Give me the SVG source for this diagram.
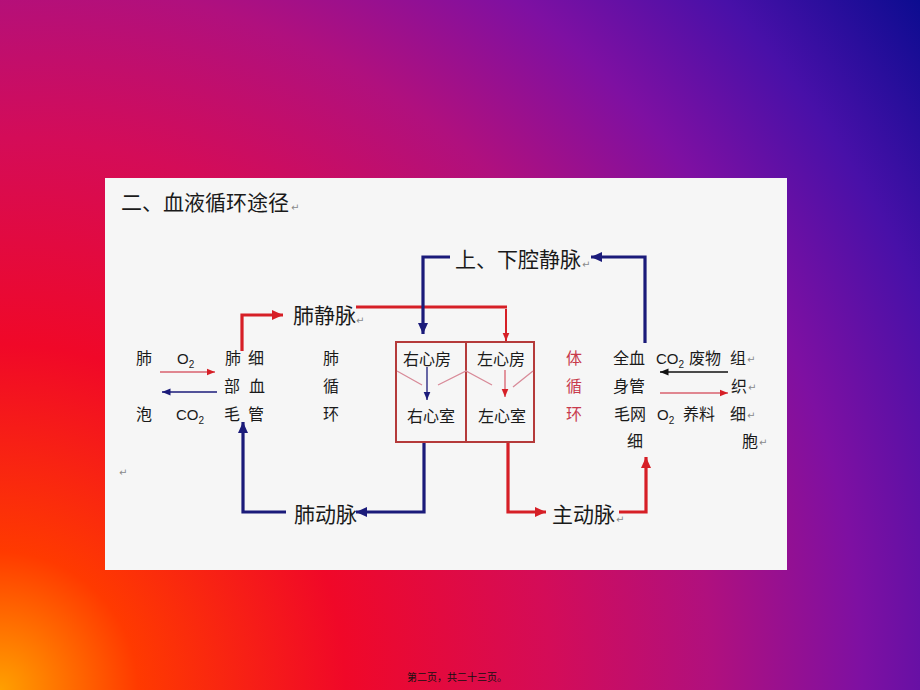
<svg xmlns="http://www.w3.org/2000/svg" width="920" height="690" viewBox="0 0 920 690">
<defs>
<radialGradient id="bg" cx="0" cy="690" r="1150" gradientUnits="userSpaceOnUse">
<stop offset="0" stop-color="#ffa000"/>
<stop offset="0.12" stop-color="#ff3a00"/>
<stop offset="0.3" stop-color="#f00828"/>
<stop offset="0.48" stop-color="#d40c58"/>
<stop offset="0.62" stop-color="#b0107e"/>
<stop offset="0.75" stop-color="#7e10a2"/>
<stop offset="0.87" stop-color="#4810a8"/>
<stop offset="1" stop-color="#0c0c90"/>
</radialGradient>
<marker id="aNavy" markerUnits="userSpaceOnUse" markerWidth="12" markerHeight="12" viewBox="0 0 12 12" refX="11" refY="6" orient="auto"><path d="M0,1 L11,6 L0,11 z" fill="#1b1b7a"/></marker>
<marker id="aRed" markerUnits="userSpaceOnUse" markerWidth="12" markerHeight="12" viewBox="0 0 12 12" refX="11" refY="6" orient="auto"><path d="M0,1 L11,6 L0,11 z" fill="#d61f26"/></marker>
<marker id="sNavy" markerUnits="userSpaceOnUse" markerWidth="9" markerHeight="9" viewBox="0 0 9 9" refX="8.5" refY="4.5" orient="auto"><path d="M0,1 L8.5,4.5 L0,8 z" fill="#1b1b7a"/></marker>
<marker id="sRed" markerUnits="userSpaceOnUse" markerWidth="9" markerHeight="9" viewBox="0 0 9 9" refX="8.5" refY="4.5" orient="auto"><path d="M0,1 L8.5,4.5 L0,8 z" fill="#d61f26"/></marker>
<marker id="sBlack" markerUnits="userSpaceOnUse" markerWidth="9" markerHeight="9" viewBox="0 0 9 9" refX="8.5" refY="4.5" orient="auto"><path d="M0,1 L8.5,4.5 L0,8 z" fill="#111"/></marker>
</defs>
<style>
text{font-family:"Noto Sans CJK SC","Noto Sans",sans-serif;fill:#1a1a1a}
.big{font-size:21px}
.sm{font-size:16px}
.lat{font-family:"Liberation Sans","Noto Sans",sans-serif;font-size:15px}
.sub{font-size:10px}
.ret{font-family:"DejaVu Sans",sans-serif;font-size:10px;fill:#8a8a8a}
.red{fill:#c83a4c}
.foot{font-size:10px;fill:#111}
.thickN{fill:none;stroke:#1b1b7a;stroke-width:3.2}
.thickR{fill:none;stroke:#d61f26;stroke-width:3.2}
.thinN{fill:none;stroke:#1b1b7a;stroke-width:1.3}
.thinR{fill:none;stroke:#d8606e;stroke-width:1.3}
.thinK{fill:none;stroke:#111;stroke-width:1.3}
.valve{fill:none;stroke:#d88a98;stroke-width:1.3}
</style>
<rect width="920" height="690" fill="url(#bg)"/>
<rect x="105" y="178" width="682" height="392" fill="#f6f6f6"/>

<g id="title"><text class="big" x="121" y="210">二、血液循环途径</text><text class="ret" x="291" y="211">↵</text></g>

<g id="lung-alveoli"><text class="sm" x="136" y="364">肺</text><text class="sm" x="136" y="420">泡</text></g>
<g id="lung-capillary">
<text class="sm" x="225" y="364">肺</text><text class="sm" x="248" y="364">细</text>
<text class="sm" x="224" y="392">部</text><text class="sm" x="249" y="392">血</text>
<text class="sm" x="224" y="420">毛</text><text class="sm" x="248" y="420">管</text>
</g>
<g id="gas-left">
<text class="lat" x="177" y="364">O<tspan class="sub" dy="4">2</tspan></text>
<text class="lat" x="176" y="420">CO<tspan class="sub" dy="4">2</tspan></text>
</g>
<g id="pulmonary-circulation"><text class="sm" x="323" y="364">肺</text><text class="sm" x="323" y="392">循</text><text class="sm" x="323" y="420">环</text></g>
<g id="pulmonary-vein"><text class="big" x="293" y="323">肺静脉</text><text class="ret" x="356" y="324">↵</text></g>
<g id="vena-cava"><text class="big" x="455" y="267">上、下腔静脉</text><text class="ret" x="582" y="268">↵</text></g>
<g id="pulmonary-artery"><text class="big" x="294" y="522">肺动脉</text></g>
<g id="aorta"><text class="big" x="552" y="522">主动脉</text><text class="ret" x="616" y="523">↵</text></g>

<g id="heart">
<rect x="396" y="342" width="138" height="100" fill="none" stroke="#b53a3a" stroke-width="2"/>
<line x1="466" y1="342" x2="466" y2="442" stroke="#b53a3a" stroke-width="2"/>
<path class="valve" d="M397,371 L422,385 M438,385 L466,371 L492,385 M513,387 L533,371"/>
<text class="sm" x="403" y="365">右心房</text>
<text class="sm" x="477" y="365">左心房</text>
<text class="sm" x="407" y="422">右心室</text>
<text class="sm" x="478" y="422">左心室</text>
</g>

<g id="systemic-circulation"><text class="sm red" x="566" y="364">体</text><text class="sm red" x="566" y="392">循</text><text class="sm red" x="566" y="420">环</text></g>
<g id="body-capillary">
<text class="sm" x="613" y="364">全血</text>
<text class="sm" x="613" y="392">身管</text>
<text class="sm" x="614" y="420">毛网</text>
<text class="sm" x="627" y="447">细</text>
</g>
<g id="exchange-right">
<text class="lat" x="656" y="364">CO<tspan class="sub" dy="4">2</tspan></text>
<text class="sm" x="689" y="364">废物</text>
<text class="lat" x="657" y="420">O<tspan class="sub" dy="4">2</tspan></text>
<text class="sm" x="683" y="420">养料</text>
</g>
<g id="tissue-cells">
<text class="sm" x="730" y="364">组</text><text class="ret" x="747" y="363">↵</text>
<text class="sm" x="731" y="392">织</text><text class="ret" x="748" y="391">↵</text>
<text class="sm" x="730" y="420">细</text><text class="ret" x="747" y="419">↵</text>
<text class="sm" x="742" y="447">胞</text><text class="ret" x="759" y="446">↵</text>
</g>
<g id="para-mark"><text class="ret" x="119" y="476">↵</text></g>

<g id="connectors">
<path class="thickR" d="M242,351 V315 H283" marker-end="url(#aRed)"/>
<path class="thickR" d="M356,307 H507"/>
<path class="thinR" style="stroke:#d61f26;stroke-width:2" d="M506,309 V341" marker-end="url(#sRed)"/>
<path class="thickN" d="M450,257 H423 V334" marker-end="url(#aNavy)"/>
<path class="thickN" d="M645,343 V257 H591" marker-end="url(#aNavy)"/>
<path class="thickN" d="M424,443 V512 H356" marker-end="url(#aNavy)"/>
<path class="thickN" d="M286,512 H243 V422" marker-end="url(#aNavy)"/>
<path class="thickR" d="M508,443 V512 H546" marker-end="url(#aRed)"/>
<path class="thickR" d="M619,512 H646 V457" marker-end="url(#aRed)"/>
<path class="thinR" d="M160,372 H215" marker-end="url(#sRed)"/>
<path class="thinN" d="M217,392 H162" marker-end="url(#sNavy)"/>
<path class="thinK" d="M728,372 H660" marker-end="url(#sBlack)"/>
<path class="thinR" d="M660,393 H728" marker-end="url(#sRed)"/>
<path class="thinN" d="M427,367 V400" marker-end="url(#sNavy)"/>
<path class="thinR" d="M505,370 V397" marker-end="url(#sRed)"/>
</g>

<g id="footer"><text class="foot" x="407" y="681">第二页，共二十三页。</text></g>
</svg>
